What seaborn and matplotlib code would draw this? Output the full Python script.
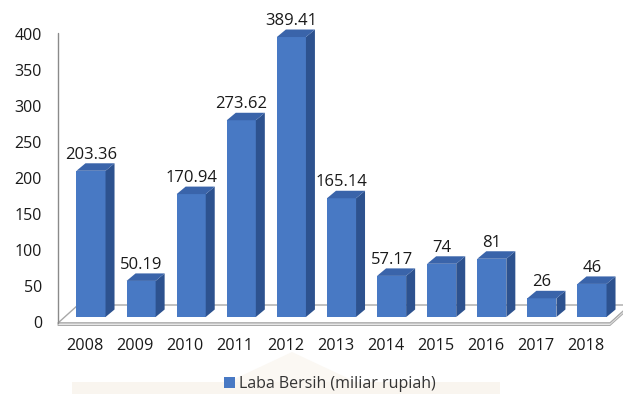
import numpy as np
import pandas as pd
import matplotlib
matplotlib.use("Agg")
import matplotlib.pyplot as plt
import seaborn as sns
from matplotlib.patches import Polygon, Patch
from matplotlib.transforms import ScaledTranslation

# ---- data ----
years = ["2008", "2009", "2010", "2011", "2012", "2013", "2014", "2015", "2016", "2017", "2018"]
values = [203.36, 50.19, 170.94, 273.62, 389.41, 165.14, 57.17, 74, 81, 26, 46]
value_labels = ["203.36", "50.19", "170.94", "273.62", "389.41", "165.14", "57.17", "74", "81", "26", "46"]
y_ticks = [0, 50, 100, 150, 200, 250, 300, 350, 400]
series_name = "Laba Bersih (miliar rupiah)"

# ---- style ----
sns.set_theme(style="white")
plt.rcParams["font.family"] = ["Open Sans", "DejaVu Sans"]

FRONT = "#4879c4"
SIDE = "#2d528f"
TOP = "#3a64aa"
GRID = "#a8a8a8"
TXT = "#1a1a1a"

W, H = 623, 394
DPI = 100
fig = plt.figure(figsize=(W / DPI, H / DPI), dpi=DPI)
fig.patch.set_facecolor("white")

# faint watermark shapes in background
fig.patches.append(Polygon([(72 / W, 0), (500 / W, 0), (500 / W, (H - 382) / H), (72 / W, (H - 382) / H)],
                           closed=True, transform=fig.transFigure, facecolor="#f9f5ef",
                           edgecolor="none", zorder=-10))
fig.patches.append(Polygon([(228 / W, (H - 382) / H), (292 / W, (H - 352) / H), (356 / W, (H - 382) / H)],
                           closed=True, transform=fig.transFigure, facecolor="#fbf8f3",
                           edgecolor="none", zorder=-10))

# axes placement (pixel coordinates from top)
ax_l, ax_r, ax_b, ax_t = 58, 612, 317, 29.4
ax = fig.add_axes([ax_l / W, (H - ax_b) / H, (ax_r - ax_l) / W, (ax_b - ax_t) / H])
ax.set_facecolor("none")

df = pd.DataFrame({"Tahun": years, "Laba": values})
sns.barplot(data=df, x="Tahun", y="Laba", color=FRONT, saturation=1, width=0.58,
            ax=ax, zorder=3, linewidth=0)
if ax.get_legend() is not None:
    ax.get_legend().remove()

x0 = -(91 - ax_l) / 50.1
x1 = x0 + (ax_r - ax_l) / 50.1
ax.set_xlim(x0, x1)
ax.set_ylim(0, 400)
ppx = (ax_r - ax_l) / (x1 - x0)
ppy = (ax_b - ax_t) / 400.0


def dx(p):
    return p / ppx


def dy(p):
    return p / ppy


# ---- floor ----
fy = -dy(6)
fxl, fxr = x0, x0 + dx(552)
fdx, fdy = dx(20), dy(18)
floor = Polygon([(fxl, fy), (fxr, fy), (fxr + fdx, fy + fdy), (fxl + fdx, fy + fdy)], closed=True,
                facecolor="white", edgecolor=GRID, linewidth=1.0, zorder=1, clip_on=False)
ax.add_patch(floor)
slab = Polygon([(fxl, fy), (fxr, fy), (fxr + fdx, fy + fdy), (fxr + fdx, fy + fdy - dy(2.5)),
                (fxr, fy - dy(2.5)), (fxl, fy - dy(2.5))], closed=True,
               facecolor="#e6e6e6", edgecolor=GRID, linewidth=0.7, zorder=1, clip_on=False)
ax.add_patch(slab)
# wall axis line
ax.plot([x0, x0], [fy, 400 - dy(3.5)], color="#8a8a8a", lw=1.0, clip_on=False, zorder=2)

# ---- 3D bar faces ----
bdx, bdy = dx(9), dy(7.5)
for p, lab in zip(ax.patches[:len(values)], value_labels):
    x, w, h = p.get_x(), p.get_width(), p.get_height()
    side = Polygon([(x + w, 0), (x + w, h), (x + w + bdx, h + bdy), (x + w + bdx, bdy)],
                   closed=True, facecolor=SIDE, edgecolor="none", zorder=3, clip_on=False)
    top = Polygon([(x, h), (x + w, h), (x + w + bdx, h + bdy), (x + bdx, h + bdy)],
                  closed=True, facecolor=TOP, edgecolor="none", zorder=3, clip_on=False)
    ax.add_patch(side)
    ax.add_patch(top)
    ax.annotate(lab, (x + w / 2, h), xytext=(0, 12 * 72 / DPI), textcoords="offset points",
                ha="center", va="baseline", fontsize=12, color=TXT, clip_on=False)

# ---- ticks ----
ax.set_yticks(y_ticks)
ax.set_xlabel("")
ax.set_ylabel("")
for s in ax.spines.values():
    s.set_visible(False)
ax.tick_params(axis="y", length=0, pad=11.5, labelsize=11.5, labelcolor=TXT)
ax.tick_params(axis="x", length=0, pad=15, labelsize=11.7, labelcolor=TXT)
for t in ax.get_yticklabels():
    t.set_transform(t.get_transform() + ScaledTranslation(0, -5 / DPI, fig.dpi_scale_trans))
for t in ax.get_xticklabels():
    t.set_transform(t.get_transform() + ScaledTranslation(-6 / DPI, 0, fig.dpi_scale_trans))

# ---- legend ----
handle = Patch(facecolor=FRONT, edgecolor="none", label=series_name)
fig.legend(handles=[handle], loc="center", bbox_to_anchor=(330 / W, (H - 384) / H),
           frameon=False, fontsize=11.5, handlelength=0.65, handleheight=0.65,
           handletextpad=0.25, labelcolor="#333333")

fig.savefig("out.png", dpi=DPI, facecolor="white")
